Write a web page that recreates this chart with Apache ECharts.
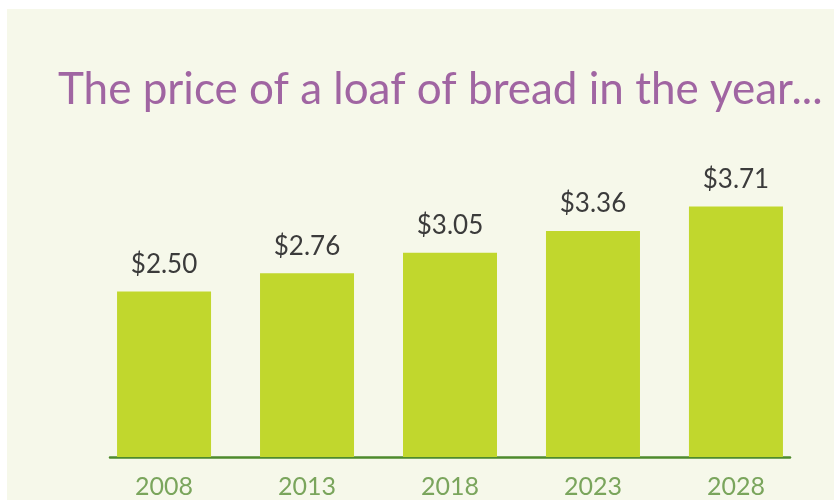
<!DOCTYPE html>
<html><head><meta charset="utf-8">
<script src="https://cdn.jsdelivr.net/npm/echarts@6/dist/echarts.min.js"></script>
<style>html,body{margin:0;padding:0;background:#fff}#c{width:834px;height:500px}</style>
</head><body><div id="c"></div>
<script>
const categories = ['2008', '2013', '2018', '2023', '2028'];
const prices = [2.50, 2.76, 3.05, 3.36, 3.71];
const titleText = 'The price of a loaf of bread in the year...';

const chart = echarts.init(document.getElementById('c'), null, {renderer: 'canvas'});
const idx = categories.map((c, i) => i);
chart.setOption({
  backgroundColor: '#ffffff',
  graphic: [{type: 'rect', shape: {x: 7, y: 9, width: 827, height: 491}, style: {fill: '#f6f8ea'}, z: -10}],
  title: {
    text: titleText, left: 53, top: 63,
    textStyle: {fontFamily: 'Lato', fontWeight: 'normal', fontSize: 44, color: '#a065a2'}
  },
  grid: {left: 110, right: 44, top: 186, bottom: 43},
  xAxis: {
    type: 'value', min: -0.378, max: 4.378,
    splitLine: {show: false},
    axisLine: {show: true, onZero: false, lineStyle: {color: '#4e8a2c', width: 2.5}},
    axisTick: {show: false},
    axisLabel: {
      customValues: idx, margin: 17,
      formatter: v => categories[Math.round(v)],
      fontFamily: 'Lato', fontSize: 25, color: '#7aa55c'
    }
  },
  yAxis: {type: 'value', min: 0.15, max: 4.0, show: false},
  series: [{
    type: 'bar', barWidth: 94,
    data: prices.map((p, i) => [i, p]),
    itemStyle: {color: '#c1d72d'},
    label: {
      show: true, position: 'top', distance: 14,
      formatter: p => '$' + p.value[1].toFixed(2),
      fontFamily: 'Lato', fontSize: 26, color: '#3b3b3b'
    }
  }]
});
</script></body></html>
